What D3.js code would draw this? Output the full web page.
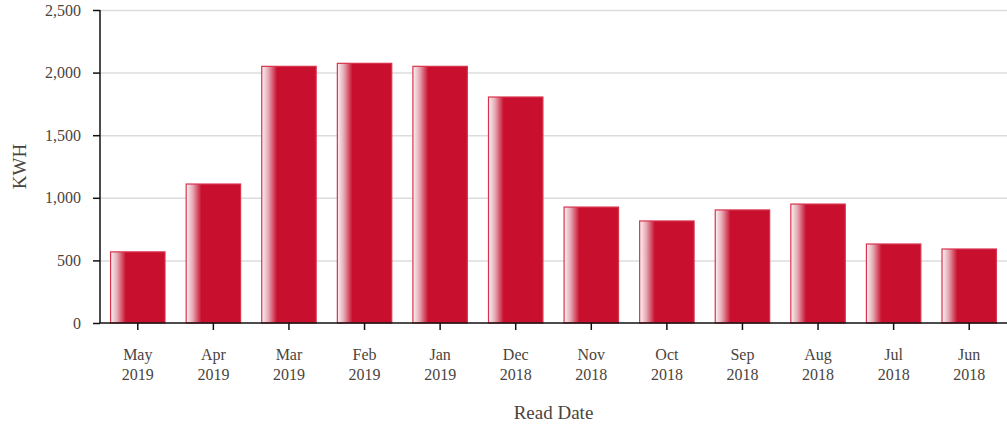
<!DOCTYPE html>
<html>
<head>
<meta charset="utf-8">
<script src="https://d3js.org/d3.v7.min.js"></script>
<style>
  body { margin: 0; background: #fff; }
  svg { font-family: "Liberation Serif", "Times New Roman", serif; }
  .tick text { fill: #4a4440; font-size: 16px; font-family: "Liberation Serif", "Times New Roman", serif; }
  .axis-label { fill: #4a4440; font-size: 19px; }
</style>
</head>
<body>
<svg width="1007" height="427"></svg>
<script>
  var months = ["May", "Apr", "Mar", "Feb", "Jan", "Dec", "Nov", "Oct", "Sep", "Aug", "Jul", "Jun"];
  var years = ["2019", "2019", "2019", "2019", "2019", "2018", "2018", "2018", "2018", "2018", "2018", "2018"];
  var kwh = [568, 1110, 2050, 2074, 2050, 1805, 926, 815, 903, 950, 631, 591];
  var yTicks = [0, 500, 1000, 1500, 2000, 2500];

  var svg = d3.select("svg"),
      plotLeft = 100, plotRight = 1007, plotTop = 10, plotBottom = 323;

  var labels = months.map(function(m, i) { return m + " " + years[i]; });

  var x = d3.scaleBand().domain(labels).range([plotLeft, plotRight]).paddingInner(0.28).paddingOuter(0.14);
  var y = d3.scaleLinear().domain([0, 2500]).range([plotBottom, plotTop]);

  var defs = svg.append("defs");
  var grad = defs.append("linearGradient").attr("id", "barGrad")
      .attr("x1", "0%").attr("x2", "100%").attr("y1", "0%").attr("y2", "0%");
  grad.append("stop").attr("offset", "0%").attr("stop-color", "#fbf5f6");
  grad.append("stop").attr("offset", "12%").attr("stop-color", "#e6a9b4");
  grad.append("stop").attr("offset", "28%").attr("stop-color", "#c8102e");
  grad.append("stop").attr("offset", "100%").attr("stop-color", "#c8102e");

  // gridlines
  svg.append("g").selectAll("line")
    .data(yTicks.slice(1))
    .enter().append("line")
    .attr("x1", plotLeft).attr("x2", plotRight)
    .attr("y1", function(d) { return y(d) + 0.5; })
    .attr("y2", function(d) { return y(d) + 0.5; })
    .attr("stroke", "#dcdcdc").attr("stroke-width", 1.5);

  // bars
  svg.append("g").selectAll("rect")
    .data(kwh)
    .enter().append("rect")
    .attr("x", function(d, i) { return x(labels[i]); })
    .attr("y", function(d) { return y(d); })
    .attr("width", x.bandwidth())
    .attr("height", function(d) { return y(0) - y(d); })
    .attr("fill", "url(#barGrad)")
    .attr("stroke", "#d8324d").attr("stroke-width", 1.2);

  // y axis
  var yAxis = svg.append("g")
    .attr("transform", "translate(" + plotLeft + ",0)")
    .call(d3.axisLeft(y).tickValues(yTicks).tickSize(7).tickPadding(12).tickFormat(d3.format(",")));
  yAxis.selectAll("line, path").attr("stroke", "#111").attr("stroke-width", 1.5);
  yAxis.select(".domain").attr("d", "M0," + plotTop + "V" + plotBottom);

  // x axis
  var xAxis = svg.append("g")
    .attr("transform", "translate(0," + plotBottom + ")")
    .call(d3.axisBottom(x).tickSize(7).tickPadding(12).tickFormat(""));
  xAxis.selectAll("line, path").attr("stroke", "#111").attr("stroke-width", 1.5);
  xAxis.select(".domain").attr("d", "M" + plotLeft + ",0H" + plotRight);
  xAxis.selectAll(".tick").each(function(d, i) {
    var t = d3.select(this).select("text").text(null).attr("y", 26);
    t.append("tspan").attr("x", 0).attr("dy", "0.71em").text(months[i]);
    t.append("tspan").attr("x", 0).attr("dy", "1.25em").text(years[i]);
  });

  svg.append("text").attr("class", "axis-label")
    .attr("text-anchor", "middle")
    .attr("transform", "translate(26," + ((plotTop + plotBottom) / 2) + ") rotate(-90)")
    .text("KWH");

  svg.append("text").attr("class", "axis-label")
    .attr("text-anchor", "middle")
    .attr("x", (plotLeft + plotRight) / 2).attr("y", 419)
    .text("Read Date");
</script>
</body>
</html>
